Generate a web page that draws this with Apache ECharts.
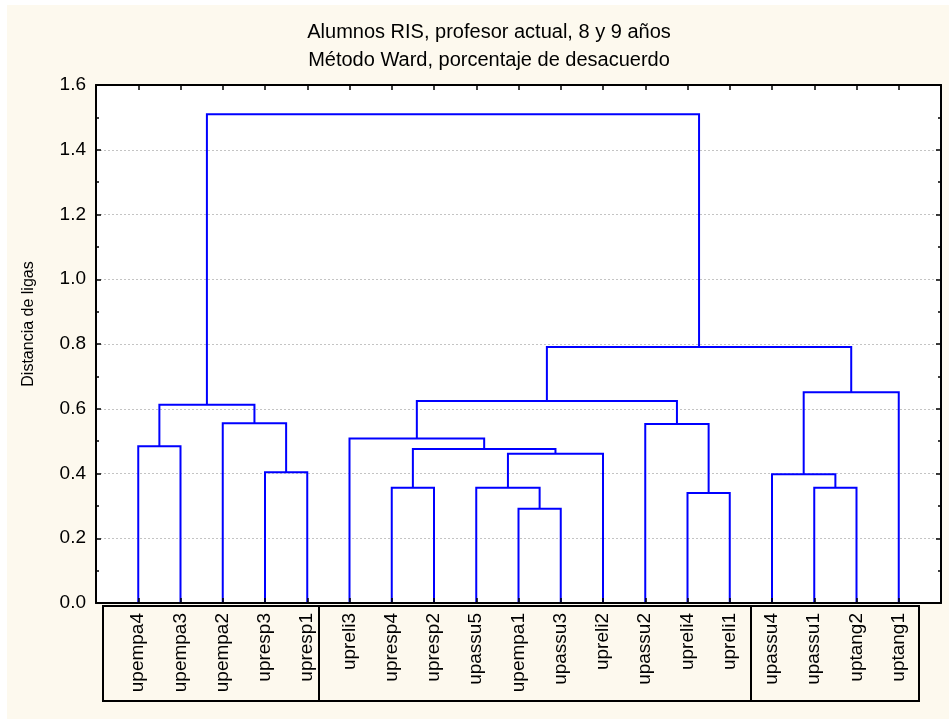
<!DOCTYPE html>
<html>
<head>
<meta charset="utf-8">
<script src="https://cdn.jsdelivr.net/npm/echarts@6/dist/echarts.min.js"></script>
<style>
  html, body { margin: 0; padding: 0; background: #fff; }
  #chart { width: 949px; height: 719px; }
</style>
</head>
<body>
<div id="chart"></div>
<script>
// Leaves in dendrogram order (left to right)
const leafLabels = [
  'upempa4', 'upempa3', 'upempa2', 'upresp3', 'upresp1',
  'upreli3', 'upresp4', 'upresp2', 'upassu5', 'upempa1',
  'upassu3', 'upreli2', 'upassu2', 'upreli4', 'upreli1',
  'upassu4', 'upassu1', 'uptang2', 'uptang1'
];

// Ward linkage: indices 0..18 are leaves, 19+ are the clusters formed in order
const mergeLeft  = [9, 13, 6, 8, 16, 15, 3, 22, 21, 0, 5, 12, 2, 28, 29, 24, 33, 32];
const mergeRight = [10, 14, 7, 19, 17, 23, 4, 11, 26, 1, 27, 20, 25, 31, 30, 18, 34, 35];
const mergeHeight = [0.291, 0.340, 0.356, 0.356, 0.356, 0.398, 0.404, 0.461, 0.476,
                     0.484, 0.508, 0.553, 0.555, 0.612, 0.624, 0.651, 0.791, 1.510];

// Y axis ticks
const yTicks = [0, 0.2, 0.4, 0.6, 0.8, 1.0, 1.2, 1.4, 1.6];

const titleLines = ['Alumnos RIS, profesor actual, 8 y 9 años', 'Método Ward, porcentaje de desacuerdo'];
const yName = 'Distancia de ligas';

// Node positions: leaves sit at 1..n, each cluster at the midpoint of its children
const nodes = leafLabels.map((_, i) => ({ x: i + 1, y: 0 }));
const links = [];
mergeLeft.forEach((a, k) => {
  const b = mergeRight[k];
  const h = mergeHeight[k];
  const na = nodes[a], nb = nodes[b];
  links.push([na.x, na.y, nb.x, nb.y, h]);
  nodes.push({ x: (na.x + nb.x) / 2, y: h });
});

const FONT = '"Liberation Sans", Arial, Helvetica, sans-serif';
const chart = echarts.init(document.getElementById('chart'));

const yAxisBase = {
  type: 'value',
  min: yTicks[0],
  max: yTicks[yTicks.length - 1],
  interval: 0.2,
  axisLine: { show: true, onZero: false, lineStyle: { color: '#000', width: 2 } },
  axisTick: { show: true, inside: true, length: 5, lineStyle: { color: '#000', width: 1.5 } },
  minorTick: { show: true, splitNumber: 2, length: 3, lineStyle: { color: '#000', width: 1.5 } },
};

chart.setOption({
  backgroundColor: '#fdf9ee',
  animation: false,
  grid: {
    left: 96, right: 8, top: 85, bottom: 116,
    show: true, backgroundColor: '#ffffff', borderWidth: 0
  },
  xAxis: [
    {
      type: 'value', min: 0, max: leafLabels.length + 1, interval: 1,
      position: 'bottom', z: 5,
      axisLine: { show: true, onZero: false, lineStyle: { color: '#000', width: 2 } },
      axisTick: { show: true, inside: true, length: 5, lineStyle: { color: '#000', width: 1.5 } },
      splitLine: { show: false },
      axisLabel: {
        rotate: 90, margin: 10, color: '#000', fontFamily: FONT, fontSize: 19,
        showMinLabel: true, showMaxLabel: true,
        formatter: v => leafLabels[v - 1] || ''
      }
    },
    {
      type: 'value', min: 0, max: leafLabels.length + 1, interval: 1,
      position: 'top', z: 5,
      axisLine: { show: true, onZero: false, lineStyle: { color: '#000', width: 2 } },
      axisTick: { show: true, inside: true, length: 5, lineStyle: { color: '#000', width: 1.5 } },
      splitLine: { show: false },
      axisLabel: { show: false }
    }
  ],
  yAxis: [
    Object.assign({}, yAxisBase, {
      position: 'left',
      splitLine: { show: true, lineStyle: { color: '#c4c4c4', type: [2, 2], width: 1 } },
      axisLabel: {
        margin: 10, color: '#000', fontFamily: FONT, fontSize: 19,
        formatter: v => v.toFixed(1)
      }
    }),
    Object.assign({}, yAxisBase, {
      position: 'right',
      splitLine: { show: false },
      axisLabel: { show: false }
    })
  ],
  graphic: [
    { type: 'rect', silent: true, shape: { x: 0, y: 0, width: 949, height: 5 }, style: { fill: '#ffffff' } },
    { type: 'rect', silent: true, shape: { x: 0, y: 0, width: 7, height: 719 }, style: { fill: '#ffffff' } },
    {
      type: 'text', x: 489, y: 32, silent: true,
      style: { text: titleLines[0], fill: '#000', font: '20px ' + FONT, align: 'center', verticalAlign: 'middle' }
    },
    {
      type: 'text', x: 489, y: 60, silent: true,
      style: { text: titleLines[1], fill: '#000', font: '20px ' + FONT, align: 'center', verticalAlign: 'middle' }
    },
    {
      type: 'text', x: 29, y: 324, rotation: Math.PI / 2, silent: true,
      style: { text: yName, fill: '#000', font: '16px ' + FONT, align: 'center', verticalAlign: 'middle' }
    },
    // Label frame with group separators
    { type: 'rect', silent: true, shape: { x: 103, y: 606, width: 816, height: 95 },
      style: { fill: 'none', stroke: '#000', lineWidth: 2 } },
    { type: 'line', silent: true, shape: { x1: 319, y1: 606, x2: 319, y2: 701 },
      style: { stroke: '#000', lineWidth: 2 } },
    { type: 'line', silent: true, shape: { x1: 751, y1: 606, x2: 751, y2: 701 },
      style: { stroke: '#000', lineWidth: 2 } }
  ],
  series: [{
    type: 'custom',
    coordinateSystem: 'cartesian2d',
    xAxisIndex: 0, yAxisIndex: 0,
    clip: false,
    z: 3,
    data: links,
    encode: { x: [0, 2], y: [1, 3, 4] },
    renderItem: function (params, api) {
      const xa = api.value(0), ya = api.value(1), xb = api.value(2), yb = api.value(3), h = api.value(4);
      const p1 = api.coord([xa, ya]), p2 = api.coord([xa, h]);
      const p3 = api.coord([xb, h]), p4 = api.coord([xb, yb]);
      return {
        type: 'polyline',
        shape: { points: [p1, p2, p3, p4] },
        style: { stroke: '#0000ff', lineWidth: 2, fill: null }
      };
    }
  }]
});
</script>
</body>
</html>
